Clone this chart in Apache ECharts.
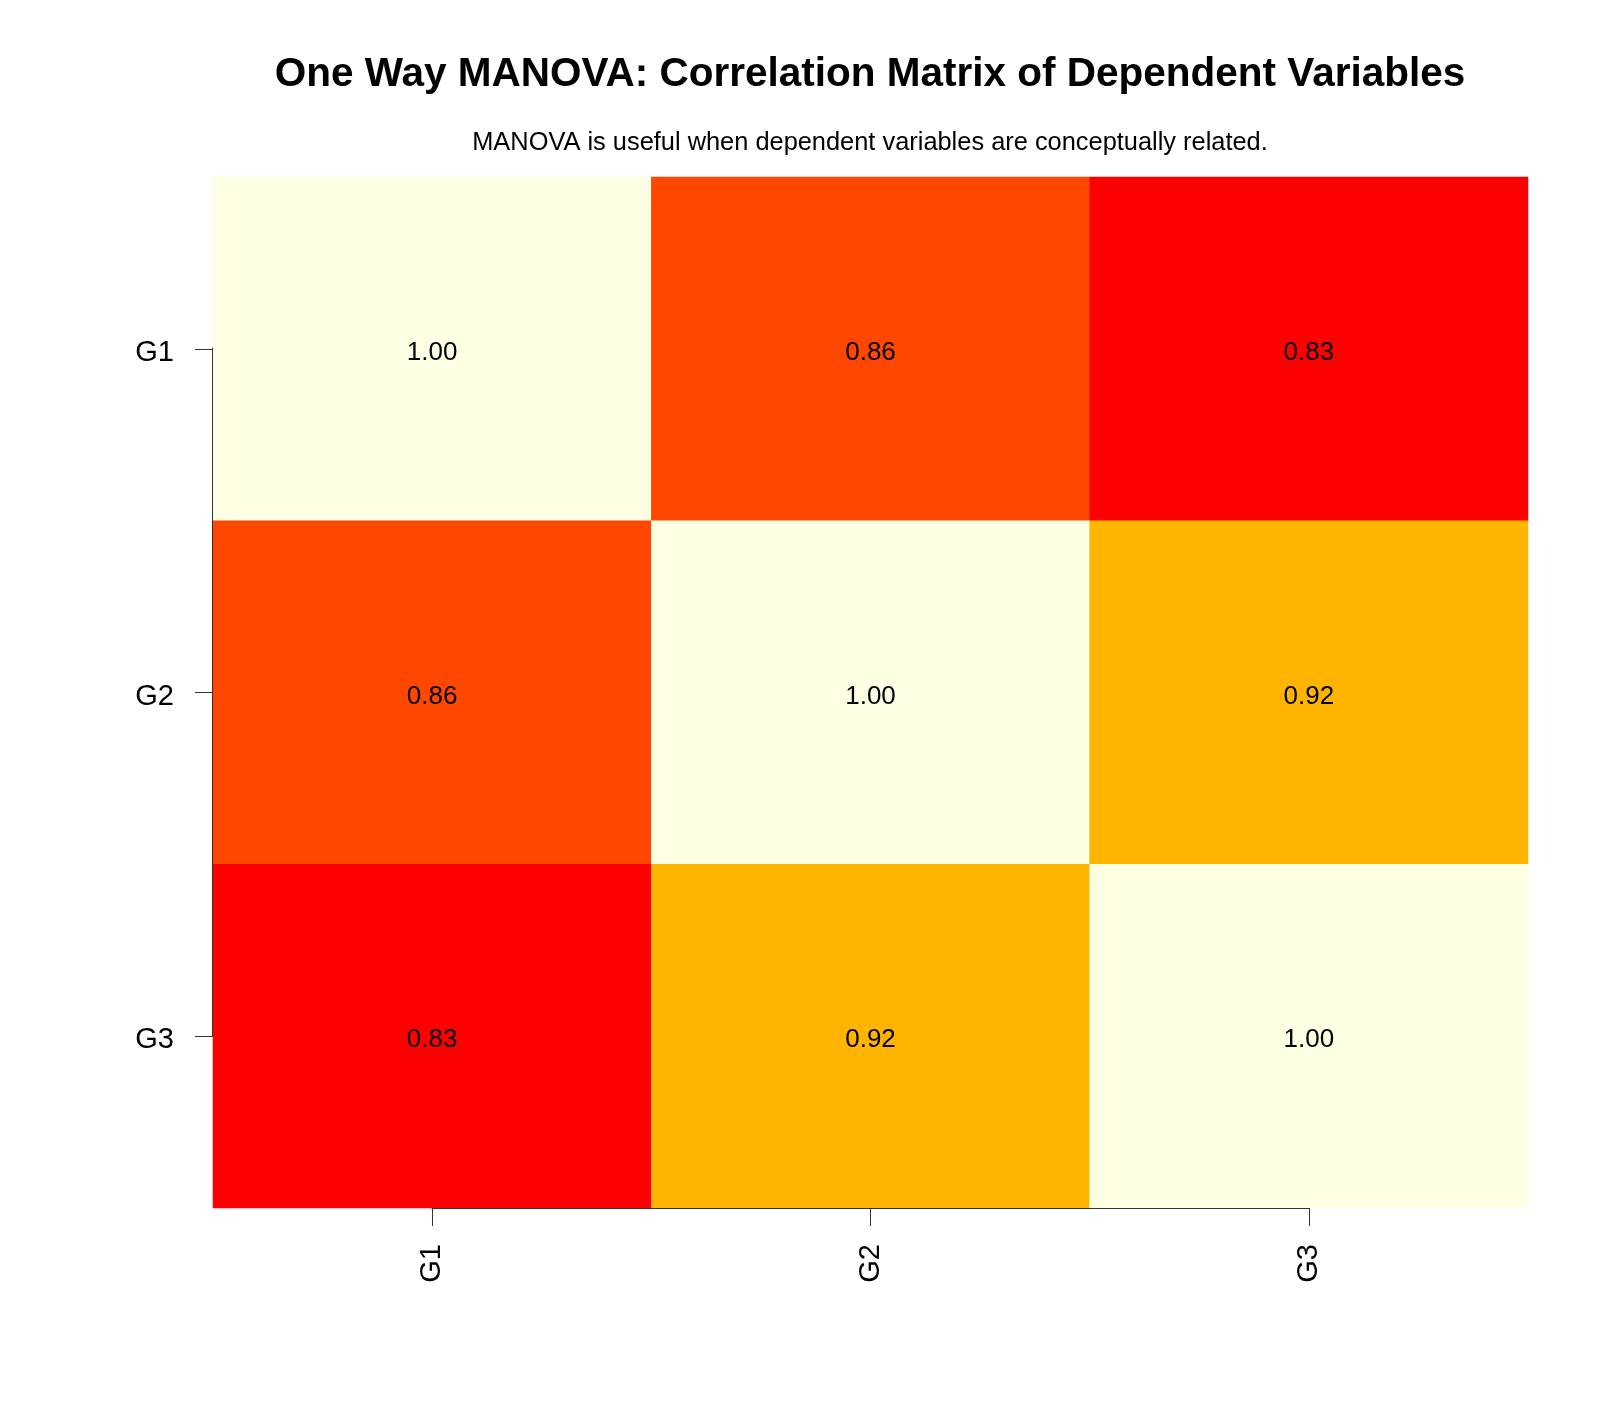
<!DOCTYPE html>
<html>
<head>
<meta charset="utf-8">
<title>One Way MANOVA</title>
<script src="https://cdn.jsdelivr.net/npm/echarts@6/dist/echarts.min.js"></script>
<style>
  html, body { margin: 0; padding: 0; background: #fff; }
  #container { width: 1600px; height: 1422px; }
</style>
</head>
<body>
<div id="container"></div>
<script>
// variables
var vars = ['G1', 'G2', 'G3'];
// correlation matrix, row by row
var corRow1 = [1.00, 0.86, 0.83];
var corRow2 = [0.86, 1.00, 0.92];
var corRow3 = [0.83, 0.92, 1.00];
var corRows = [corRow1, corRow2, corRow3];

var titleText = 'One Way MANOVA: Correlation Matrix of Dependent Variables';
var subText = 'MANOVA is useful when dependent variables are conceptually related.';

var heatData = [];
for (var r = 0; r < corRows.length; r++) {
	for (var c = 0; c < corRows[r].length; c++) {
		heatData.push([c, r, corRows[r][c]]);
	}
}

var font = 'Liberation Sans, Arial, sans-serif';
var axisColor = '#333';

var myChart = echarts.init(document.getElementById('container'));
var option = {
	backgroundColor: '#fff',
	animation: false,
	title: [{
		text: titleText,
		left: 865,
		top: 49,
		textAlign: 'center',
		textStyle: { fontFamily: font, fontSize: 40.5, fontWeight: 'bold', color: '#000' }
	}, {
		text: subText,
		left: 865,
		top: 125,
		textAlign: 'center',
		textStyle: { fontFamily: font, fontSize: 25.4, fontWeight: 'normal', color: '#000' }
	}],
	grid: [{
		left: 213, right: 72, top: 177, bottom: 214
	}, {
		// x axis line only between first and last tick
		left: 432, right: 291, top: 177, bottom: 214
	}, {
		// y axis line only between first and last tick
		left: 212, right: 73, top: 348, bottom: 386
	}],
	xAxis: [{
		type: 'category',
		data: vars,
		gridIndex: 0,
		z: 5,
		axisLine: { show: false },
		axisTick: { show: true, alignWithLabel: true, length: 18, lineStyle: { color: axisColor, width: 1 } },
		axisLabel: { rotate: 90, margin: 36, fontFamily: font, fontSize: 29, color: '#000' },
		splitLine: { show: false }
	}, {
		type: 'value', gridIndex: 1, min: 0, max: 1, z: 5,
		axisLine: { show: true, onZero: false, lineStyle: { color: axisColor, width: 1 } },
		axisTick: { show: false }, axisLabel: { show: false }, splitLine: { show: false }
	}, {
		type: 'value', gridIndex: 2, min: 0, max: 1, show: false
	}],
	yAxis: [{
		type: 'category',
		data: vars,
		inverse: true,
		gridIndex: 0,
		z: 5,
		axisLine: { show: false },
		axisTick: { show: true, alignWithLabel: true, length: 18, lineStyle: { color: axisColor, width: 1 } },
		axisLabel: {
			margin: 39,
			fontFamily: font, fontSize: 29, color: '#000',
			formatter: function (v) { return '{a|' + v + '}'; },
			rich: { a: { fontFamily: font, fontSize: 29, color: '#000', padding: [8, 0, 0, 0] } }
		},
		splitLine: { show: false }
	}, {
		type: 'value', gridIndex: 1, min: 0, max: 1, show: false
	}, {
		type: 'value', gridIndex: 2, min: 0, max: 1, z: 5,
		axisLine: { show: true, onZero: false, lineStyle: { color: axisColor, width: 1 } },
		axisTick: { show: false }, axisLabel: { show: false }, splitLine: { show: false }
	}],
	visualMap: {
		type: 'piecewise',
		show: false,
		dimension: 2,
		seriesIndex: 0,
		pieces: [
			{ lte: 0.845, color: '#FF0000' },
			{ gt: 0.845, lte: 0.89, color: '#FF4700' },
			{ gt: 0.89, lte: 0.96, color: '#FFB500' },
			{ gt: 0.96, color: '#FFFFE4' }
		]
	},
	series: [{
		type: 'heatmap',
		xAxisIndex: 0,
		yAxisIndex: 0,
		data: heatData,
		label: {
			show: true,
			fontFamily: font,
			fontSize: 26,
			color: '#000',
			offset: [0, 4],
			formatter: function (p) { return p.value[2].toFixed(2); }
		},
		itemStyle: { borderWidth: 0 },
		emphasis: { disabled: true }
	}]
};
myChart.setOption(option);
</script>
</body>
</html>
